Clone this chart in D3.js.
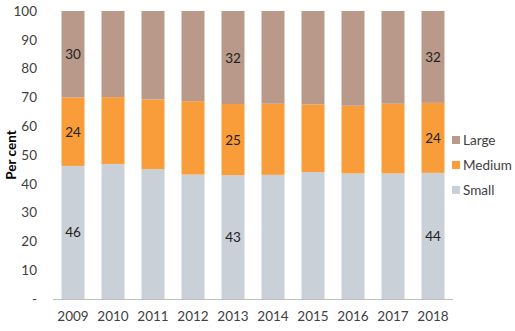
<!DOCTYPE html>
<html><head><meta charset="utf-8">
<script src="https://cdn.jsdelivr.net/npm/d3@7"></script>
<style>body{margin:0;background:#fff}svg{display:block;font-family:Lato,"Open Sans",sans-serif}</style>
</head><body><svg id="c" width="515" height="331"></svg>
<script>
const years = ["2009","2010","2011","2012","2013","2014","2015","2016","2017","2018"];
const small = [46.2, 46.9, 45.1, 43.2, 43.0, 43.1, 44.1, 43.6, 43.6, 43.8];
const medium = [23.8, 23.2, 24.2, 25.5, 24.7, 24.7, 23.5, 23.5, 24.2, 24.3];
const large = [30.0, 29.9, 30.7, 31.3, 32.3, 32.2, 32.4, 32.9, 32.2, 31.9];
const seriesNames = ["Small","Medium","Large"];
const colors = {Small:"#c9d0d7", Medium:"#f99d3a", Large:"#b8998a"};
const yTicks = [0,10,20,30,40,50,60,70,80,90,100];
const labelled = {"2009":[46,24,30],"2013":[43,25,32],"2018":[44,24,32]};

const svg = d3.select("#c");
const x = d3.scaleBand().domain(years).range([53,453]).paddingInner(0.425).paddingOuter(0.2125);
const y = d3.scaleLinear().domain([0,100]).range([299,11]);

const rows = years.map((yr,i)=>({year:yr, Small:small[i], Medium:medium[i], Large:large[i]}));
const stack = d3.stack().keys(seriesNames)(rows);

svg.append("g").selectAll("g").data(stack).join("g").attr("fill",d=>colors[d.key])
  .selectAll("rect").data(d=>d).join("rect")
  .attr("x",d=>x(d.data.year)).attr("width",x.bandwidth())
  .attr("y",d=>y(d[1])).attr("height",d=>y(d[0])-y(d[1]));

// data labels
stack.forEach((s,si)=>{
  s.forEach(d=>{
    const lab = labelled[d.data.year];
    if(!lab) return;
    svg.append("text").attr("x",x(d.data.year)+x.bandwidth()/2).attr("y",(y(d[0])+y(d[1]))/2)
      .attr("text-anchor","middle").attr("dominant-baseline","central")
      .attr("font-size",13.5).attr("fill","#222").text(lab[si]);
  });
});

// y axis
const ya = svg.append("g").attr("transform","translate(37,0)")
  .call(d3.axisLeft(y).tickValues(yTicks).tickSize(0).tickPadding(0).tickFormat(d=>d===0?"-":d));
ya.select(".domain").remove();
ya.selectAll("text").attr("font-size",13.5).attr("fill","#404040").attr("font-family","Lato,'Open Sans',sans-serif");

// x axis
const xa = svg.append("g").attr("transform","translate(0,299)")
  .call(d3.axisBottom(x).tickSize(0).tickPadding(12));
xa.select(".domain").attr("stroke","#bfbfbf").attr("d","M53,0.5H453");
xa.selectAll("text").attr("font-size",13.5).attr("fill","#404040").attr("font-family","Lato,'Open Sans',sans-serif");

// y title
svg.append("text").attr("transform","translate(16,155) rotate(-90)").attr("text-anchor","middle")
  .attr("font-size",13.5).attr("font-weight","bold").attr("fill","#000").text("Per cent");

// legend
const legOrder = ["Large","Medium","Small"];
const lg = svg.append("g");
legOrder.forEach((k,i)=>{
  const cy = 140 + i*25;
  lg.append("rect").attr("x",452).attr("y",cy-4).attr("width",8).attr("height",8).attr("fill",colors[k]);
  lg.append("text").attr("x",463).attr("y",cy).attr("dominant-baseline","central")
    .attr("font-size",13.5).attr("fill","#404040").text(k);
});
</script></body></html>
